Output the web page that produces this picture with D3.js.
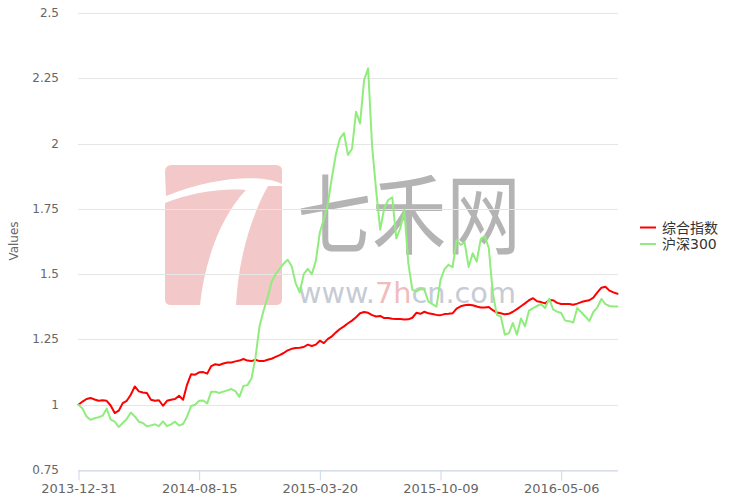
<!DOCTYPE html>
<html>
<head>
<meta charset="utf-8">
<script src="https://cdn.jsdelivr.net/npm/d3@7"></script>
<style>
  html, body { margin: 0; padding: 0; background: #fff; }
  svg { display: block; }
</style>
</head>
<body>
<svg id="chart" width="735" height="499"></svg>
<script>
// ---- data ----
const seriesNames = ["综合指数", "沪深300"];
const seriesColors = ["#ff0000", "#90ed7d"];

const composite = [
  1.0, 1.012, 1.022, 1.026, 1.02, 1.015, 1.017, 1.015, 0.997, 0.968,
  0.977, 1.006, 1.015, 1.038, 1.07, 1.051, 1.047, 1.045, 1.019, 1.015,
  1.017, 0.996, 1.015, 1.019, 1.022, 1.034, 1.019, 1.077, 1.117, 1.115,
  1.124, 1.125, 1.119, 1.148, 1.155, 1.152,
  1.158, 1.162, 1.162, 1.166, 1.169, 1.175, 1.169, 1.167, 1.172, 1.167,
  1.167, 1.172, 1.176, 1.183, 1.19, 1.198, 1.208, 1.214, 1.217, 1.218,
  1.221, 1.23, 1.225, 1.23, 1.245, 1.236, 1.252,
  1.262, 1.277, 1.29, 1.30, 1.312, 1.322, 1.335, 1.35, 1.355, 1.352,
  1.343, 1.338, 1.34, 1.332, 1.332, 1.329, 1.328, 1.328, 1.326, 1.327,
  1.333, 1.352, 1.348, 1.356, 1.35, 1.347, 1.344, 1.343, 1.347, 1.348,
  1.35, 1.368, 1.377, 1.381, 1.383, 1.381, 1.376, 1.372, 1.372, 1.374,
  1.362, 1.353, 1.35, 1.346, 1.348, 1.356, 1.366, 1.377, 1.388, 1.40,
  1.408, 1.396, 1.393, 1.388, 1.40, 1.40, 1.39, 1.386, 1.386, 1.386,
  1.383, 1.387, 1.393, 1.397, 1.40, 1.41, 1.43, 1.448, 1.452, 1.437,
  1.43, 1.425
];

const hs300 = [
  1.0, 0.985, 0.955, 0.942, 0.948, 0.952, 0.958, 0.985, 0.943, 0.935,
  0.915, 0.93, 0.945, 0.97, 0.955, 0.935, 0.93, 0.917, 0.921, 0.925,
  0.918, 0.936, 0.918, 0.925, 0.935, 0.92, 0.926, 0.955, 0.995, 1.0,
  1.015, 1.016, 1.005,
  1.05, 1.05, 1.045, 1.05, 1.055, 1.06, 1.052, 1.03, 1.072, 1.075, 1.10,
  1.18, 1.30, 1.36, 1.41, 1.47, 1.50, 1.52, 1.54, 1.555, 1.53,
  1.465, 1.43, 1.50, 1.52, 1.50, 1.55, 1.66, 1.71, 1.77, 1.87, 1.96,
  2.02, 2.04, 1.956, 1.98, 2.122, 2.077, 2.243, 2.288, 1.988, 1.82,
  1.67, 1.752, 1.784, 1.794, 1.637, 1.675, 1.746, 1.541, 1.44, 1.434,
  1.443, 1.44, 1.395, 1.385, 1.376, 1.478, 1.519, 1.536, 1.527, 1.631,
  1.612, 1.621, 1.527, 1.58, 1.548, 1.634, 1.646, 1.6, 1.427, 1.344,
  1.338, 1.268, 1.274, 1.313, 1.268, 1.33, 1.30, 1.36, 1.37, 1.378,
  1.385, 1.37, 1.406, 1.365, 1.356, 1.351, 1.322, 1.32, 1.315, 1.37,
  1.354, 1.338, 1.32, 1.355, 1.373, 1.405, 1.385, 1.378, 1.376, 1.376
];

const xTickIndex = [0, 30, 60, 90, 120];
const xTickLabels = ["2013-12-31", "2014-08-15", "2015-03-20", "2015-10-09", "2016-05-06"];
const yTicks = [0.75, 1, 1.25, 1.5, 1.75, 2, 2.25, 2.5];
const yTitle = "Values";

// ---- layout ----
const svg = d3.select("#chart");
const plotLeft = 78.5, plotRight = 617.5, plotTop = 13, plotBottom = 470;
const N = composite.length;

const x = d3.scaleLinear().domain([0, N - 1]).range([plotLeft, plotRight]);
const y = d3.scaleLinear().domain([0.75, 2.5]).range([plotBottom, plotTop]);

svg.append("rect").attr("width", 735).attr("height", 499).attr("fill", "#fff");

// ---- watermark ----
const wm = svg.append("g").attr("class", "watermark");
const pink = "#f2c8c8";
wm.append("path").attr("fill", pink)
  .attr("d", "M165,172 Q165,165 172,165 L276,165 Q282,165 282,171 L282,184 C 262,174 215,176 166,196 Z");
wm.append("path").attr("fill", pink)
  .attr("d", "M165,203 C 190,193 220,188 246,190 C 222,215 205,258 200,305 L171,305 Q165,305 165,299 Z");
wm.append("path").attr("fill", pink)
  .attr("d", "M268,186 L282,186 L282,299 Q282,305 276,305 L236,305 C 238,262 250,218 268,186 Z");
wm.append("text")
  .attr("x", 297).attr("y", 208)
  .attr("dominant-baseline", "central")
  .attr("textLength", 224).attr("lengthAdjust", "spacingAndGlyphs")
  .attr("font-family", "Noto Sans CJK SC")
  .attr("font-size", 88)
  .attr("fill", "#b4b4b4")
  .text("七禾网");

// "www.7hcn.com" as three adjacent pieces, sized to the reference width
const wmParts = [["www.", "#c6cbd4"], ["7h", "#f0bcbc"], ["cn.com", "#c6cbd4"]];
let wmFont = 33;
const probe = wm.append("text").attr("font-family", "DejaVu Sans").attr("font-size", wmFont).text("www.7hcn.com");
const fullW = probe.node().getComputedTextLength();
probe.remove();
wmFont = wmFont * 218 / fullW;
let cx = 298;
wmParts.forEach(([t, c]) => {
  const el = wm.append("text")
    .attr("x", cx).attr("y", 303)
    .attr("font-family", "DejaVu Sans")
    .attr("font-size", wmFont)
    .attr("fill", c)
    .text(t);
  cx += el.node().getComputedTextLength();
});

// ---- grid + y labels ----
svg.append("g").selectAll("line").data(yTicks).join("line")
  .attr("x1", plotLeft - 0.5).attr("x2", plotRight + 0.5)
  .attr("y1", d => Math.round(y(d)) + 0.5).attr("y2", d => Math.round(y(d)) + 0.5)
  .attr("stroke", "#e6e6e6").attr("stroke-width", 1);

svg.append("g").selectAll("text").data(yTicks).join("text")
  .attr("x", 59).attr("y", d => y(d) + 4)
  .attr("text-anchor", "end")
  .attr("font-family", "DejaVu Sans")
  .attr("font-size", 12)
  .attr("fill", "#666")
  .text(d => d);

svg.append("text")
  .attr("transform", "translate(18,241) rotate(-90)")
  .attr("text-anchor", "middle")
  .attr("font-family", "DejaVu Sans")
  .attr("font-size", 12)
  .attr("fill", "#666")
  .text(yTitle);

// ---- x axis ----
const xAxis = d3.axisBottom(x)
  .tickValues(xTickIndex)
  .tickFormat((d, i) => xTickLabels[i])
  .tickSize(10)
  .tickSizeOuter(0);
const gx = svg.append("g").attr("transform", `translate(0,${plotBottom + 0.5})`).call(xAxis);
gx.select(".domain").attr("stroke", "#ccd6eb");
gx.selectAll(".tick line").attr("stroke", "#ccd6eb");
gx.selectAll(".tick text")
  .attr("font-family", "DejaVu Sans")
  .attr("font-size", 13)
  .attr("fill", "#666");

// ---- lines ----
const line = d3.line().x((d, i) => x(i)).y(d => y(d));
[composite, hs300].forEach((s, k) => {
  svg.append("path")
    .datum(s)
    .attr("d", line)
    .attr("fill", "none")
    .attr("stroke", seriesColors[k])
    .attr("stroke-width", 2)
    .attr("stroke-linejoin", "round")
    .attr("stroke-linecap", "round");
});

// ---- legend ----
const lg = svg.append("g");
seriesNames.forEach((name, k) => {
  const cy = 227.5 + k * 16.5;
  lg.append("line")
    .attr("x1", 640).attr("x2", 656)
    .attr("y1", cy).attr("y2", cy)
    .attr("stroke", seriesColors[k]).attr("stroke-width", 2);
  lg.append("text")
    .attr("x", 662).attr("y", cy)
    .attr("dominant-baseline", "central")
    .attr("font-family", "DejaVu Sans, Noto Sans CJK SC")
    .attr("font-size", 14)
    .attr("fill", "#333")
    .text(name);
});
</script>
</body>
</html>
